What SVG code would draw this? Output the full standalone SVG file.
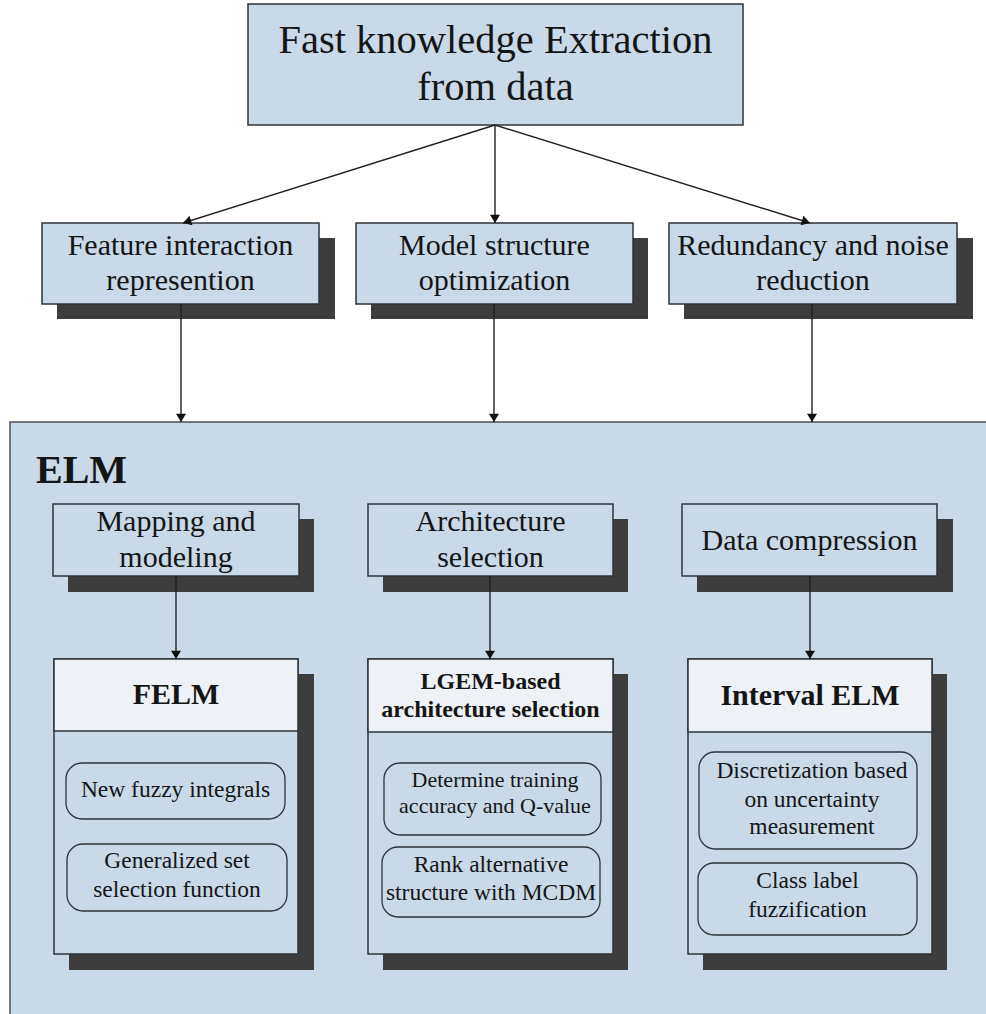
<svg xmlns="http://www.w3.org/2000/svg" width="986" height="1014" viewBox="0 0 986 1014">
  <defs>
    <marker id="arrow" viewBox="0 0 10 12" refX="10" refY="6" markerWidth="9" markerHeight="10" markerUnits="userSpaceOnUse" orient="auto">
      <path d="M0,0 L10,6 L0,12 Z" fill="#111"/>
    </marker>
    <style>
      .box { fill: #c9d9e8; stroke: #2e3338; stroke-width: 1.5; }
      .shadow { fill: #3d3d3d; }
      .head { fill: #eef1f6; stroke: #2e3338; stroke-width: 1.5; }
      .pill { fill: #c9d9e8; stroke: #2e3338; stroke-width: 1.3; }
      .t { font-family: "Liberation Serif", "Times New Roman", serif; fill: #151515; text-anchor: middle; }
      .b { font-weight: bold; }
      .conn { stroke: #222; stroke-width: 1.4; fill: none; marker-end: url(#arrow); }
    </style>
  </defs>
  <rect width="986" height="1014" fill="#ffffff"/>

  <!-- ELM container -->
  <g id="elm">
    <rect x="10" y="422" width="990" height="600" fill="#c9d9e8" stroke="#4a4f55" stroke-width="1.5"/>
    <text class="t b" x="36" y="483" font-size="40" style="text-anchor:start">ELM</text>
  </g>

  <!-- root -->
  <g id="root">
    <rect class="box" x="248" y="4" width="495" height="121"/>
    <text class="t" x="495.5" y="53" font-size="40.5">Fast knowledge Extraction</text>
    <text class="t" x="495.5" y="100" font-size="40.5">from data</text>
  </g>

  <!-- second level -->
  <g id="feature">
    <rect class="shadow" x="57" y="238" width="278" height="81"/>
    <rect class="box" x="42" y="223" width="277" height="81"/>
    <text class="t" x="180.5" y="255" font-size="30">Feature interaction</text>
    <text class="t" x="180.5" y="290" font-size="30">represention</text>
  </g>
  <g id="model">
    <rect class="shadow" x="371" y="238" width="277" height="81"/>
    <rect class="box" x="356" y="223" width="277" height="81"/>
    <text class="t" x="494.5" y="255" font-size="30">Model structure</text>
    <text class="t" x="494.5" y="290" font-size="30">optimization</text>
  </g>
  <g id="redundancy">
    <rect class="shadow" x="684" y="238" width="289" height="81"/>
    <rect class="box" x="669" y="223" width="288" height="81"/>
    <text class="t" x="813" y="255" font-size="30">Redundancy and noise</text>
    <text class="t" x="813" y="290" font-size="30">reduction</text>
  </g>

  <!-- third level -->
  <g id="mapping">
    <rect class="shadow" x="68" y="519" width="246" height="73"/>
    <rect class="box" x="53" y="504" width="246" height="72"/>
    <text class="t" x="176" y="531" font-size="30">Mapping and</text>
    <text class="t" x="176" y="567" font-size="30">modeling</text>
  </g>
  <g id="architecture">
    <rect class="shadow" x="383" y="519" width="245" height="73"/>
    <rect class="box" x="368" y="504" width="245" height="72"/>
    <text class="t" x="490.5" y="531" font-size="30">Architecture</text>
    <text class="t" x="490.5" y="567" font-size="30">selection</text>
  </g>
  <g id="compression">
    <rect class="shadow" x="697" y="519" width="256" height="73"/>
    <rect class="box" x="682" y="504" width="255" height="72"/>
    <text class="t" x="809.5" y="550" font-size="30">Data compression</text>
  </g>

  <!-- method panels -->
  <g id="felm">
    <rect class="shadow" x="69" y="674" width="245" height="296"/>
    <rect class="box" x="54" y="659" width="244" height="295"/>
    <rect class="head" x="54" y="659" width="244" height="72"/>
    <text class="t b" x="176" y="704" font-size="30">FELM</text>
    <rect class="pill" x="66" y="763" width="219" height="56" rx="16"/>
    <text class="t" x="175.5" y="797" font-size="23.5">New fuzzy integrals</text>
    <rect class="pill" x="67" y="844" width="220" height="67" rx="16"/>
    <text class="t" x="177" y="868" font-size="23.5">Generalized set</text>
    <text class="t" x="177" y="897" font-size="23.5">selection function</text>
  </g>
  <g id="lgem">
    <rect class="shadow" x="383" y="674" width="245" height="296"/>
    <rect class="box" x="368" y="659" width="245" height="295"/>
    <rect class="head" x="368" y="659" width="245" height="73"/>
    <text class="t b" x="490.5" y="689" font-size="24">LGEM-based</text>
    <text class="t b" x="490.5" y="717" font-size="24">architecture selection</text>
    <rect class="pill" x="384" y="763" width="217" height="72" rx="16"/>
    <text class="t" x="495" y="787" font-size="22">Determine training</text>
    <text class="t" x="495" y="813" font-size="22">accuracy and Q-value</text>
    <rect class="pill" x="382" y="847" width="218" height="70" rx="16"/>
    <text class="t" x="491" y="872" font-size="23.5">Rank alternative</text>
    <text class="t" x="491" y="900" font-size="23.5">structure with MCDM</text>
  </g>
  <g id="interval">
    <rect class="shadow" x="703" y="674" width="244" height="296"/>
    <rect class="box" x="688" y="659" width="244" height="295"/>
    <rect class="head" x="688" y="659" width="244" height="73"/>
    <text class="t b" x="810" y="705" font-size="30">Interval ELM</text>
    <rect class="pill" x="699" y="752" width="218" height="97" rx="16"/>
    <text class="t" x="812" y="778" font-size="23.5">Discretization based</text>
    <text class="t" x="812" y="807" font-size="23.5">on uncertainty</text>
    <text class="t" x="812" y="834" font-size="23.5">measurement</text>
    <rect class="pill" x="698" y="863" width="219" height="72" rx="16"/>
    <text class="t" x="807.5" y="888" font-size="23.5">Class label</text>
    <text class="t" x="807.5" y="917" font-size="23.5">fuzzification</text>
  </g>

  <!-- connectors -->
  <g id="connectors">
    <line class="conn" x1="495" y1="125" x2="183" y2="223"/>
    <line class="conn" x1="495" y1="125" x2="495" y2="223"/>
    <line class="conn" x1="495" y1="125" x2="810" y2="223"/>
    <line class="conn" x1="181" y1="304" x2="181" y2="422"/>
    <line class="conn" x1="494" y1="304" x2="494" y2="422"/>
    <line class="conn" x1="812" y1="304" x2="812" y2="422"/>
    <line class="conn" x1="176" y1="576" x2="176" y2="659"/>
    <line class="conn" x1="490" y1="576" x2="490" y2="659"/>
    <line class="conn" x1="810" y1="576" x2="810" y2="659"/>
  </g>
</svg>
